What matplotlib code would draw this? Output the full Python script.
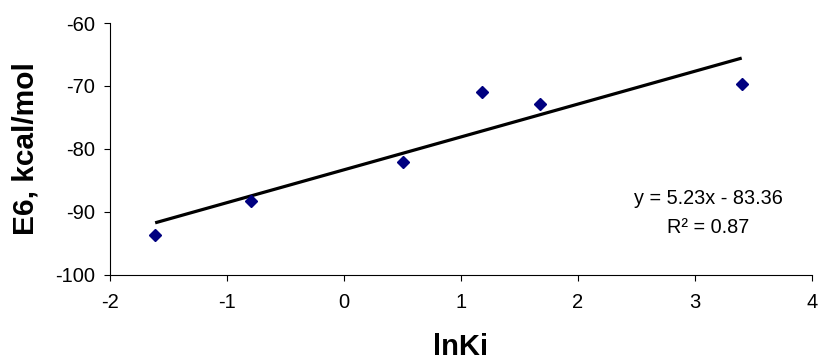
import numpy as np
import matplotlib.pyplot as plt

plt.rcParams['font.family'] = ['Liberation Sans', 'DejaVu Sans']
plt.rcParams['axes.unicode_minus'] = False

# lnKi vs E6 energies
ln_ki = [-1.61, -0.79, 0.51, 1.18, 1.68, 3.40]
e6 = [-93.7, -88.35, -82.05, -70.95, -72.9, -69.65]

# linear trendline as reported in the label
slope = 5.23
intercept = -83.36
r_squared = 0.87

fig = plt.figure(figsize=(8.19, 3.63), dpi=100)
ax = fig.add_axes([0.1337, 0.2438, 0.8577, 0.6928])

xfit = np.array([min(ln_ki), max(ln_ki)])
ax.plot(xfit, slope * xfit + intercept, color='black', lw=2.3, solid_capstyle='butt', zorder=2)
ax.plot(ln_ki, e6, linestyle='none', marker='D', markersize=6.2,
        color='#000080', zorder=3)

ax.set_xlim(-2, 4)
ax.set_ylim(-100, -60)
ax.set_xticks(range(-2, 5))
ax.set_yticks(range(-100, -59, 10))

for side in ['top', 'right']:
    ax.spines[side].set_visible(False)
for side in ['left', 'bottom']:
    ax.spines[side].set_linewidth(0.8)
ax.tick_params(direction='out', length=4.5, width=0.8, labelsize=14.5)
ax.tick_params(axis='x', pad=9)
ax.tick_params(axis='y', pad=6)

ax.set_xlabel('lnKi', fontsize=21, fontweight='bold', labelpad=15)
ax.set_ylabel('E6, kcal/mol', fontsize=21.5, fontweight='bold', labelpad=11)

ax.text(3.117, -87.98, 'y = %.2fx - %.2f' % (slope, -intercept),
        ha='center', va='center', fontsize=14.3)
ax.text(3.117, -92.6, 'R\u00b2 = %.2f' % r_squared,
        ha='center', va='center', fontsize=14.3)

fig.savefig('out.png', dpi=100)
